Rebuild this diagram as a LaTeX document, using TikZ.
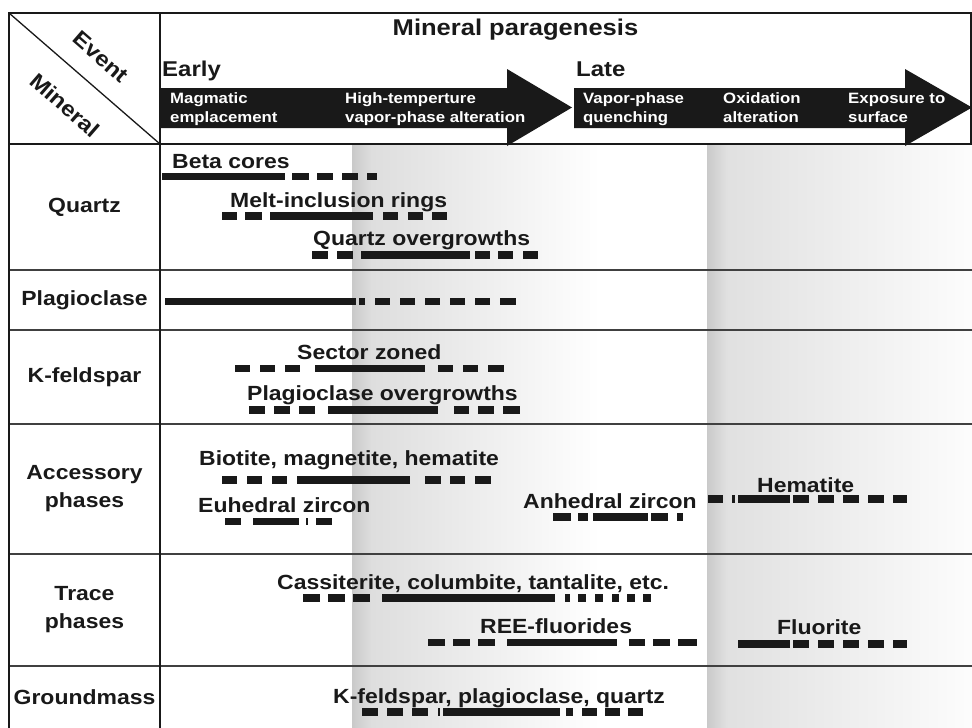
\documentclass[tikz,border=0pt]{standalone}
\usepackage{fontspec}
\setmainfont{Liberation Sans}
\usepackage{graphicx}
\newcommand{\sxx}[1]{\scalebox{1.12}[1]{#1}}
\newcommand{\mybars}[2]{\foreach \a/\b in {#2} {\fill[barfill] (\a,#1-3.6) rectangle (\b,#1+3.6);}}
\begin{document}
\begin{tikzpicture}[x=1pt,y=-1pt,
  barfill/.style={fill=black!90},
  lbl/.style={font=\fontsize{20.5}{23}\selectfont\bfseries, text=black!90, inner sep=0pt, anchor=base west},
  rowlbl/.style={font=\fontsize{20.5}{28}\selectfont\bfseries, text=black!90, inner sep=0pt, align=center},
  hdr/.style={font=\fontsize{21.4}{24}\selectfont\bfseries, text=black!90, inner sep=0pt, anchor=base west},
  bandtxt/.style={font=\fontsize{15}{19}\selectfont\bfseries, text=white, inner sep=0pt, anchor=base west},
  diag/.style={font=\fontsize{21.5}{24}\selectfont\bfseries, text=black!90, inner sep=0pt, rotate=-41},
  thickline/.style={line width=2pt, draw=black!90},
  rowline/.style={line width=1.3pt, draw=black!75},
  arrowfill/.style={fill=black!90}]
\useasboundingbox (0,0) rectangle (972,728);
% background shadings
\shade[left color=black!21, right color=black!13] (352,145) rectangle (372,728);
\shade[left color=black!13, right color=white] (371.5,145) rectangle (600,728);
\shade[left color=black!21, right color=black!12] (707,145) rectangle (727,728);
\shade[left color=black!12, right color=black!1] (726.5,145) rectangle (972,728);
% table lines
\draw[rowline] (9,270) -- (972,270);
\draw[rowline] (9,330) -- (972,330);
\draw[rowline] (9,424) -- (972,424);
\draw[rowline] (9,554) -- (972,554);
\draw[rowline] (9,666) -- (972,666);
\draw[thickline] (9,144) -- (972,144);
\draw[thickline] (9,728) -- (9,13) -- (971,13) -- (971,144);
\draw[thickline] (160,13) -- (160,728);
\draw[line width=1.3pt, draw=black!90] (9,13) -- (160,144);
% arrows
\fill[arrowfill] (160,88) -- (507,88) -- (507,69) -- (572,107.5) -- (507,146) -- (507,128) -- (160,128) -- cycle;
\fill[arrowfill] (574,88) -- (905,88) -- (905,69) -- (972,107.5) -- (905,146) -- (905,128) -- (574,128) -- cycle;
% header texts
\node[font=\fontsize{22.8}{25}\selectfont\bfseries, text=black!90, inner sep=0pt, anchor=base] (title) at (515.5,35) {\sxx{Mineral paragenesis}};
\node[hdr] (early) at (162,76) {\sxx{Early}};
\node[hdr] (late) at (576,76) {\sxx{Late}};
\node[diag] (event) at (101,57) {\sxx{Event}};
\node[diag] (mineral) at (65,105) {\sxx{Mineral}};
\node[bandtxt] (b1) at (170,103) {\sxx{\begin{tabular}[t]{@{}l@{}}Magmatic\\emplacement\end{tabular}}};
\node[bandtxt] (b2) at (345,103) {\sxx{\begin{tabular}[t]{@{}l@{}}High-temperture\\vapor-phase alteration\end{tabular}}};
\node[bandtxt] (b3) at (583,103) {\sxx{\begin{tabular}[t]{@{}l@{}}Vapor-phase\\quenching\end{tabular}}};
\node[bandtxt] (b4) at (723,103) {\sxx{\begin{tabular}[t]{@{}l@{}}Oxidation\\alteration\end{tabular}}};
\node[bandtxt] (b5) at (848,103) {\sxx{\begin{tabular}[t]{@{}l@{}}Exposure to\\surface\end{tabular}}};
% row labels
\node[rowlbl] (rq) at (84.5,207) {\sxx{Quartz}};
\node[rowlbl] (rp) at (84.5,300) {\sxx{Plagioclase}};
\node[rowlbl] (rk) at (84.5,377) {\sxx{K-feldspar}};
\node[rowlbl] (ra) at (84.5,489) {\sxx{Accessory}\\\sxx{phases}};
\node[rowlbl] (rt) at (84.5,610) {\sxx{Trace}\\\sxx{phases}};
\node[rowlbl] (rg) at (84.5,697) {\sxx{Groundmass}};
% Quartz
\node[lbl] (beta) at (172,168) {\sxx{Beta cores}};
\mybars{176.5}{162/285, 292/309, 317/333, 342/358, 367/377}
\node[lbl] (melt) at (230,207) {\sxx{Melt-inclusion rings}};
\mybars{216}{222/237, 245/262, 270/373, 383/398, 408/423, 432/447}
\node[lbl] (qov) at (313,245) {\sxx{Quartz overgrowths}};
\mybars{255}{312/328, 337/353, 361/470, 475/490, 498/513, 523/538}
% Plagioclase
\mybars{301.5}{165/356, 359/365, 375/390, 400/415, 425/440, 450/465, 475/490, 500/516}
% K-feldspar
\node[lbl] (sector) at (297,359) {\sxx{Sector zoned}};
\mybars{368.5}{235/250, 260/275, 285/300, 315/425, 438/453, 463/478, 488/504}
\node[lbl] (plov) at (247,400) {\sxx{Plagioclase overgrowths}};
\mybars{410}{249/265, 274/290, 299/315, 328/438, 454/469, 478/494, 503/520}
% Accessory
\node[lbl] (biot) at (199,465) {\sxx{Biotite, magnetite, hematite}};
\mybars{480}{222/237, 247/262, 272/287, 297/410, 425/441, 450/465, 475/491}
\node[lbl] (euh) at (198,512) {\sxx{Euhedral zircon}};
\mybars{521.5}{225/241, 253/299, 305.5/307.5, 316/332}
\node[lbl] (anh) at (523,508) {\sxx{Anhedral zircon}};
\mybars{517}{553/571, 578/588, 593/648, 651/668, 677/683}
\node[lbl] (hem) at (757,492) {\sxx{Hematite}};
\mybars{499}{708/723, 732/735, 738/790, 793/809, 818/834, 843/859, 868/884, 893/907}
% Trace
\node[lbl] (cass) at (277,589) {\sxx{Cassiterite, columbite, tantalite, etc.}};
\mybars{598}{303/320, 328/345, 353/370, 382/555, 565/570, 578/586, 595/603, 612/619, 627/635, 643/651}
\node[lbl] (ree) at (480,633) {\sxx{REE-fluorides}};
\mybars{642.5}{428/445, 453/470, 478/495, 507/617, 629/645, 653/670, 678/697}
\node[lbl] (fluo) at (777,634) {\sxx{Fluorite}};
\mybars{644}{738/790, 793/809, 818/834, 843/859, 868/884, 893/907}
% Groundmass
\node[lbl] (gm) at (333,703) {\sxx{K-feldspar, plagioclase, quartz}};
\mybars{712}{362/378, 387/403, 412/428, 438/440, 443/560, 566/573, 582/597, 605/620, 628/643}
\end{tikzpicture}
\end{document}
